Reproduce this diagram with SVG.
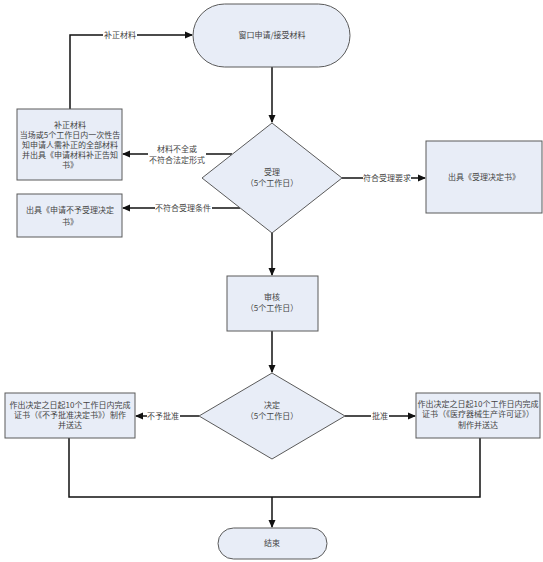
<svg xmlns="http://www.w3.org/2000/svg" width="543" height="562" viewBox="0 0 543 562">
<style>
.n{fill:#e8edf7;stroke:#5a5a5a;stroke-width:1}
.t{font-family:"Noto Sans CJK SC","Liberation Serif",serif;font-size:8px;fill:#444;text-anchor:middle}
.c{fill:none;stroke:#111;stroke-width:1.5}
.lb{fill:#fff}
</style>
<defs>
<marker id="a" markerWidth="8" markerHeight="8" refX="7" refY="4" orient="auto" markerUnits="userSpaceOnUse">
<path d="M0,0.5 L8,4 L0,7.5 Z" fill="#111"/>
</marker>
</defs>
<rect width="543" height="562" fill="#fff"/>
<g id="connectors">
<path class="c" d="M272,67 V122" marker-end="url(#a)"/>
<path class="c" d="M342,178 H425" marker-end="url(#a)"/>
<path class="c" d="M232,154 H123" marker-end="url(#a)"/>
<path class="c" d="M240,208 H123" marker-end="url(#a)"/>
<path class="c" d="M70,109 V35 H192" marker-end="url(#a)"/>
<path class="c" d="M272,233 V275" marker-end="url(#a)"/>
<path class="c" d="M272,331 V372" marker-end="url(#a)"/>
<path class="c" d="M199,416 H136" marker-end="url(#a)"/>
<path class="c" d="M345,416 H415" marker-end="url(#a)"/>
<path class="c" d="M69,438 V497 H480 V438"/>
<path class="c" d="M272,497 V527" marker-end="url(#a)"/>
<rect class="lb" x="363" y="172" width="48" height="12"/>
<text class="t" x="387" y="181">符合受理要求</text>
<rect class="lb" x="148" y="142" width="58" height="23"/>
<text class="t" x="177" y="152">材料不全或</text>
<text class="t" x="177" y="163">不符合法定形式</text>
<rect class="lb" x="155" y="202" width="57" height="12"/>
<text class="t" x="183" y="211">不符合受理条件</text>
<rect class="lb" x="103" y="29" width="34" height="12"/>
<text class="t" x="120" y="38">补正材料</text>
<rect class="lb" x="147" y="410" width="33" height="12"/>
<text class="t" x="163" y="419">不予批准</text>
<rect class="lb" x="371" y="410" width="18" height="12"/>
<text class="t" x="380" y="419">批准</text>
</g>
<g id="start">
<rect class="n" x="193" y="4" width="157" height="63" rx="31.5"/>
<text class="t" x="272" y="38">窗口申请/接受材料</text>
</g>
<g id="accept">
<path class="n" d="M272,123 L342,178 L272,233 L202,178 Z"/>
<text class="t" x="272" y="175">受理</text>
<text class="t" x="272" y="186">（5个工作日）</text>
</g>
<g id="accept-decision">
<rect class="n" x="426" y="141" width="116" height="72"/>
<text class="t" x="484" y="180">出具《受理决定书》</text>
</g>
<g id="supplement">
<rect class="n" x="17" y="109" width="105" height="71"/>
<text class="t" x="70" y="128">补正材料</text>
<text class="t" x="70" y="138">当场或5个工作日内一次性告</text>
<text class="t" x="70" y="148">知申请人需补正的全部材料</text>
<text class="t" x="70" y="158">并出具《申请材料补正告知</text>
<text class="t" x="70" y="168">书》</text>
</g>
<g id="reject-accept">
<rect class="n" x="17" y="194" width="105" height="43"/>
<text class="t" x="70" y="213">出具《申请不予受理决定</text>
<text class="t" x="70" y="225">书》</text>
</g>
<g id="review">
<rect class="n" x="227" y="276" width="91" height="55"/>
<text class="t" x="272" y="300">审核</text>
<text class="t" x="272" y="311">（5个工作日）</text>
</g>
<g id="decide">
<path class="n" d="M272,373 L345,416 L272,459 L199,416 Z"/>
<text class="t" x="272" y="408">决定</text>
<text class="t" x="272" y="419">（5个工作日）</text>
</g>
<g id="deny">
<rect class="n" x="5" y="393" width="130" height="45"/>
<text class="t" x="70" y="408">作出决定之日起10个工作日内完成</text>
<text class="t" x="70" y="418">证书（《不予批准决定书》）制作</text>
<text class="t" x="70" y="428">并送达</text>
</g>
<g id="approve">
<rect class="n" x="416" y="393" width="124" height="45"/>
<text class="t" x="478" y="407">作出决定之日起10个工作日内完成</text>
<text class="t" x="478" y="417">证书（《医疗器械生产许可证》）</text>
<text class="t" x="478" y="428">制作并送达</text>
</g>
<g id="end">
<rect class="n" x="218" y="528" width="109" height="31" rx="15.5"/>
<text class="t" x="272" y="546">结束</text>
</g>
</svg>
